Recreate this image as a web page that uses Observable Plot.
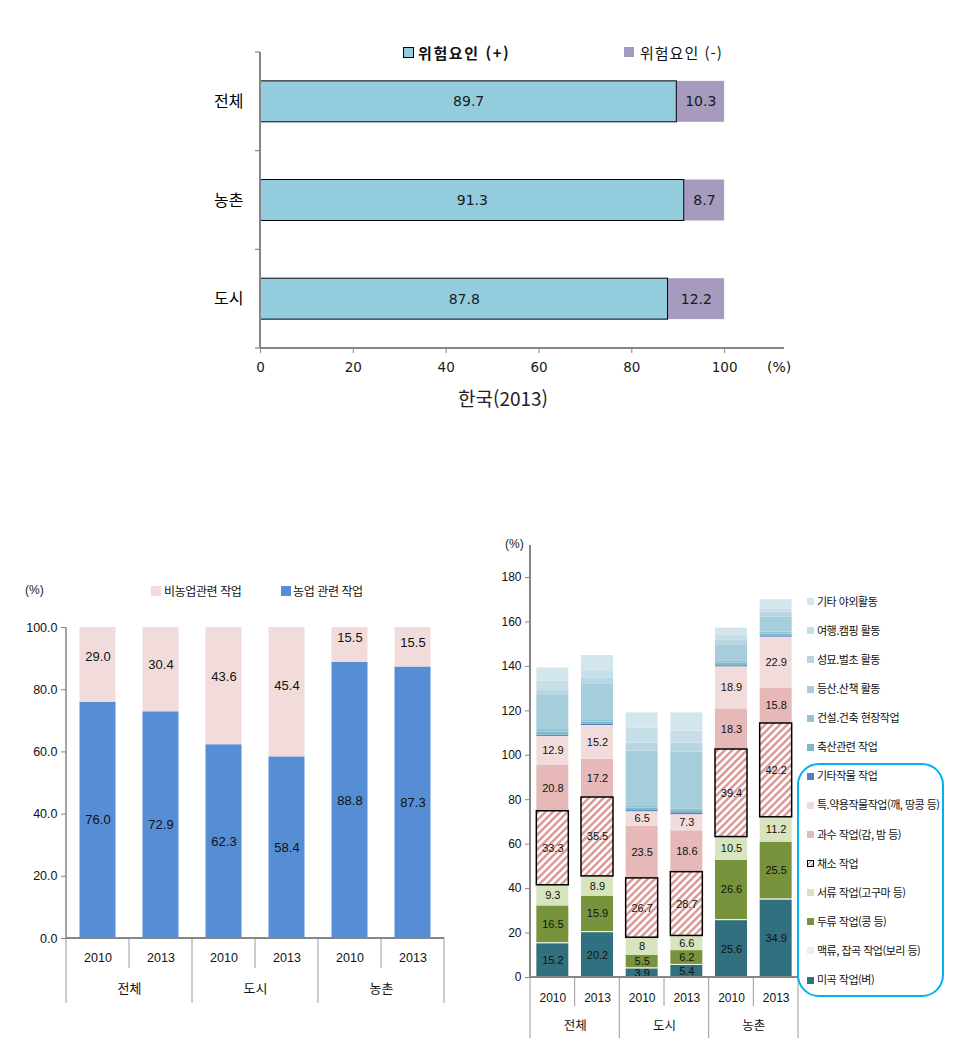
<!DOCTYPE html>
<html lang="ko"><head><meta charset="utf-8">
<script src="https://cdn.jsdelivr.net/npm/d3@7"></script>
<script src="https://cdn.jsdelivr.net/npm/@observablehq/plot@0.6"></script>
<style>
html,body{margin:0;padding:0;background:#fff;}
#wrap{position:relative;width:960px;height:1059px;overflow:hidden;font-family:"Noto Sans CJK KR","Noto Sans",sans-serif;color:#000;}
#wrap > svg{position:absolute;overflow:visible;}
.t{position:absolute;white-space:nowrap;line-height:1.2;transform:translateY(-50%);}
.sw{position:absolute;box-sizing:border-box;}
</style></head><body><div id="wrap"></div>
<script>
// ---------- Chart A: 위험요인 (2013) ----------
const riskRegions = ["전체", "농촌", "도시"];
const riskSeries = ["위험요인 (+)", "위험요인 (-)"];
const riskPlus = [89.7, 91.3, 87.8];
const riskMinus = [10.3, 8.7, 12.2];
const riskTicks = [0, 20, 40, 60, 80, 100];
const riskTitle = "한국(2013)";

// ---------- Chart B: 농업/비농업 작업 ----------
const groups = ["전체", "도시", "농촌"];
const years = ["2010", "2013"];
const shareSeries = ["농업 관련 작업", "비농업관련 작업"];
const farmWork = [76.0, 72.9, 62.3, 58.4, 88.8, 87.3];
const nonFarmWork = [29.0, 30.4, 43.6, 45.4, 15.5, 15.5];
const shareTicks = [0, 20, 40, 60, 80, 100];

// ---------- Chart C: 작업 종류별 ----------
const cropSeries = ["미곡 작업(벼)", "맥류, 잡곡 작업(보리 등)", "두류 작업(콩 등)", "서류 작업(고구마 등)",
  "채소 작업", "과수 작업(감, 밤 등)", "특.약용작물작업(깨, 땅콩 등)", "기타작물 작업",
  "축산관련 작업", "건설.건축 현장작업", "등산.산책 활동", "성묘.벌초 활동", "여행.캠핑 활동", "기타 야외활동"];
const rice = [15.2, 20.2, 3.9, 5.4, 25.6, 34.9];
const barleyGrain = [0.5, 0.5, 0.5, 0.5, 0.5, 0.5];
const beans = [16.5, 15.9, 5.5, 6.2, 26.6, 25.5];
const tubers = [9.3, 8.9, 8, 6.6, 10.5, 11.2];
const vegetables = [33.3, 35.5, 26.7, 28.7, 39.4, 42.2];
const fruit = [20.8, 17.2, 23.5, 18.6, 18.3, 15.8];
const specialCrops = [12.9, 15.2, 6.5, 7.3, 18.9, 22.9];
const otherCrops = [0.5, 0.5, 0.5, 0.8, 0.5, 0.3];
const livestock = [1.5, 1.0, 1.2, 1.0, 1.2, 1.3];
const construction = [1.1, 0.8, 1.0, 0.8, 0.8, 0.8];
const hiking = [15.3, 16.2, 24.6, 25.5, 7.1, 6.7];
const graveVisit = [2.2, 2.8, 3.5, 4.0, 2.3, 2.3];
const travel = [4.2, 3.0, 6.8, 5.4, 2.2, 1.4];
const otherOutdoor = [6.0, 7.2, 6.9, 8.3, 3.3, 4.2];
const cropTicks = [0, 20, 40, 60, 80, 100, 120, 140, 160, 180];
const labeledCrops = ["미곡 작업(벼)", "두류 작업(콩 등)", "서류 작업(고구마 등)", "채소 작업", "과수 작업(감, 밤 등)", "특.약용작물작업(깨, 땅콩 등)"];

// ---------- styles ----------
const KR = '"Noto Sans CJK KR","Noto Sans",sans-serif';
const NARROW = '"Liberation Sans Narrow","Liberation Sans",Arial,sans-serif';
const AXIS = "#868686";
const riskColors = ["#93CDDD", "#A69ABF"];
const shareColors = ["#558ED5", "#F2DCDB"];
const cropColors = ["#30707F", "#EBF1DE", "#77933C", "#D7E4BD", "url(#hatch)", "#E6B9B8", "#F2DCDB",
  "#4F81BD", "#7FB7CB", "#93C4D5", "#A5CDDB", "#B7D6E1", "#C6DEE7", "#D4E6ED"];

const wrap = document.getElementById("wrap");
function place(el, left, top) { el.style.left = left + "px"; el.style.top = top + "px"; wrap.appendChild(el); }
function label(text, x, cy, size, extra = "") {
  const d = document.createElement("div"); d.className = "t"; d.textContent = text;
  d.style.cssText += `left:${x}px;top:${cy}px;font-size:${size}px;` + extra;
  wrap.appendChild(d); return d;
}
function swatch(x, y, w, h, css) {
  const d = document.createElement("div"); d.className = "sw";
  d.style.cssText += `left:${x}px;top:${y}px;width:${w}px;height:${h}px;` + css;
  wrap.appendChild(d); return d;
}
function line(sel, x1, y1, x2, y2, stroke, w) {
  sel.append("line").attr("x1", x1).attr("y1", y1).attr("x2", x2).attr("y2", y2)
    .attr("stroke", stroke).attr("stroke-width", w);
}

// ================= Chart A =================
const riskData = riskRegions.flatMap((r, i) => [
  {region: r, series: riskSeries[0], value: riskPlus[i]},
  {region: r, series: riskSeries[1], value: riskMinus[i]}
]);
const riskXMax = 112.9;
const chartA = Plot.plot({
  width: 960, height: 420, marginLeft: 260, marginRight: 176, marginTop: 52, marginBottom: 72,
  x: {domain: [0, riskXMax], round: false},
  y: {domain: riskRegions, paddingInner: 0.585, paddingOuter: 0.2925, round: false},
  color: {type: "identity"},
  style: {background: "transparent", fontFamily: '"DejaVu Sans",sans-serif', fontSize: "14px", color: "#000"},
  marks: [
    Plot.barX(riskData, Plot.stackX({y: "region", x: "value", z: "series", order: riskSeries,
      fill: d => riskColors[riskSeries.indexOf(d.series)]})),
    Plot.barX(riskData.filter(d => d.series === riskSeries[0]), Plot.stackX({y: "region", x: "value", z: "series",
      order: riskSeries, fill: "none", stroke: "#000", strokeWidth: 1})),
    Plot.text(riskData, Plot.stackX({y: "region", x: "value", z: "series", order: riskSeries,
      text: d => d.value.toFixed(1), fill: "#1a1a1a", fontSize: 14})),
    Plot.axisX({ticks: riskTicks, tickSize: 5, tickPadding: 9, stroke: AXIS, fill: "#1a1a1a", fontSize: 13.5, label: null}),
    Plot.axisY({tickSize: 0, tickPadding: 17, fontSize: 16, fontFamily: KR, fill: "#000", label: null})
  ]
});
place(chartA, 0, 0);
{
  const s = d3.select(chartA).append("g");
  const xs = chartA.scale("x"), ys = chartA.scale("y");
  const off = (ys.step - ys.bandwidth) / 2;
  const b = riskRegions.map(r => ys.apply(r) - off);
  b.push(b[b.length - 1] + ys.step);
  const x0 = xs.apply(0), xEnd = xs.apply(riskXMax);
  b.forEach(v => line(s, x0 - 5, v, x0, v, AXIS, 1.2));
  line(s, x0, b[0], x0, b[b.length - 1], AXIS, 2);
  line(s, x0, b[b.length - 1], xEnd, b[b.length - 1], AXIS, 2);
}
// legend, unit and title for A
swatch(403, 47, 11, 11, `background:${riskColors[0]};border:1.5px solid #000;`);
label(riskSeries[0], 418, 53, 15, "font-weight:bold;letter-spacing:1.6px;color:#111;");
swatch(624, 47, 10, 10, `background:${riskColors[1]};`);
label(riskSeries[1], 640, 53, 15, "letter-spacing:1px;color:#111;");
label("(%)", 767, 367, 14, 'font-family:"DejaVu Sans",sans-serif;color:#111;');
label(riskTitle, 503, 398, 19, "transform:translate(-50%,-50%);color:#222;");

// ================= Chart B =================
const barKeys = groups.flatMap(g => years.map(y => g + " " + y));
const shareData = barKeys.flatMap((k, i) => [
  {bar: k, series: shareSeries[0], value: farmWork[i]},
  {bar: k, series: shareSeries[1], value: nonFarmWork[i]}
]);
const widthB = 470, mLB = 66, mRB = 26;
const stepB = (widthB - mLB - mRB) / barKeys.length;
const chartB = Plot.plot({
  width: widthB, height: 480, marginLeft: mLB, marginRight: mRB, marginTop: 67, marginBottom: 102,
  x: {domain: barKeys, paddingInner: 0.4286, paddingOuter: 0.2143, round: false},
  y: {domain: [0, 100]},
  color: {type: "identity"},
  style: {background: "transparent", fontFamily: NARROW, fontSize: "12px", color: "#000"},
  marks: [
    Plot.barY(shareData, Plot.stackY({x: "bar", y: "value", z: "series", order: shareSeries,
      fill: d => shareColors[shareSeries.indexOf(d.series)], clip: true})),
    Plot.text(shareData, Plot.stackY({x: "bar", y: "value", z: "series", order: shareSeries,
      text: d => d.value.toFixed(1), fill: "#111", fontSize: 13})),
    Plot.axisY({ticks: shareTicks, tickFormat: d => d.toFixed(1), tickSize: 5, tickPadding: 4,
      stroke: AXIS, fill: "#111", fontSize: 12.5, label: null}),
    Plot.axisX({tickFormat: k => k.split(" ")[1], tickSize: 0, tickPadding: 15, fill: "#111", fontSize: 12.5, label: null}),
    Plot.text(groups, {x: g => g + " " + years[0], dx: stepB / 2, frameAnchor: "bottom", dy: 54,
      text: d => d, fontFamily: KR, fontSize: 13, fill: "#111"})
  ]
});
place(chartB, 0, 560);
{
  const s = d3.select(chartB).append("g");
  const xs = chartB.scale("x"), ys = chartB.scale("y");
  const off = (xs.step - xs.bandwidth) / 2;
  const b = barKeys.map(k => xs.apply(k) - off);
  b.push(b[b.length - 1] + xs.step);
  const y0 = ys.apply(0), yTop = ys.apply(100);
  line(s, b[0], yTop, b[0], y0, AXIS, 1.5);
  b.forEach((v, i) => line(s, v, y0, v, y0 + (i % 2 === 0 ? 65 : 30), "#9a9a9a", 1));
  line(s, b[0], y0, b[b.length - 1], y0, AXIS, 2);
}
label("(%)", 25, 590, 12, `font-family:${NARROW};color:#222;`);
swatch(151, 586, 10, 10, `background:${shareColors[1]};`);
label(shareSeries[1], 164, 591, 12, "letter-spacing:-0.4px;color:#111;");
swatch(281, 586, 10, 10, `background:${shareColors[0]};`);
label(shareSeries[0], 293, 591, 12, "letter-spacing:-0.4px;color:#111;");

// ================= Chart C =================
const cropValues = [rice, barleyGrain, beans, tubers, vegetables, fruit, specialCrops, otherCrops,
  livestock, construction, hiking, graveVisit, travel, otherOutdoor];
const cropData = barKeys.flatMap((k, i) => cropSeries.map((s, j) => ({
  bar: k, series: s, value: cropValues[j][i], color: cropColors[j], labeled: labeledCrops.includes(s)
})));
const widthC = 480, mLC = 50, mRC = 162;
const stepC = (widthC - mLC - mRC) / barKeys.length;
const cropYMax = 194.4;
const stackC = {x: "bar", y: "value", z: "series", order: cropSeries};
const chartC = Plot.plot({
  width: widthC, height: 529, marginLeft: mLC, marginRight: mRC, marginTop: 15, marginBottom: 82,
  x: {domain: barKeys, paddingInner: 0.284, paddingOuter: 0.142, round: false},
  y: {domain: [0, cropYMax]},
  color: {type: "identity"},
  style: {background: "transparent", fontFamily: NARROW, fontSize: "12px", color: "#000"},
  marks: [
    Plot.barY(cropData, Plot.stackY({...stackC, fill: "color"})),
    Plot.barY(cropData, Plot.stackY({...stackC, fill: "none",
      stroke: d => d.series === "채소 작업" ? "#000" : "none", strokeWidth: 1.5})),
    Plot.text(cropData, Plot.stackY({...stackC, text: d => d.labeled ? String(d.value) : null,
      fill: "#111", fontSize: 11})),
    Plot.axisY({ticks: cropTicks, tickSize: 5, tickPadding: 4, stroke: AXIS, fill: "#111", fontSize: 12, label: null}),
    Plot.axisX({tickFormat: k => k.split(" ")[1], tickSize: 0, tickPadding: 16, fill: "#111", fontSize: 12, label: null}),
    Plot.text(groups, {x: g => g + " " + years[0], dx: stepC / 2, frameAnchor: "bottom", dy: 52,
      text: d => d, fontFamily: KR, fontSize: 12.5, fill: "#111"})
  ]
});
place(chartC, 480, 530);
{
  const svg = d3.select(chartC);
  const defs = svg.insert("defs", ":first-child");
  const pat = defs.append("pattern").attr("id", "hatch").attr("patternUnits", "userSpaceOnUse")
    .attr("width", 5.2).attr("height", 5.2).attr("patternTransform", "rotate(45)");
  pat.append("rect").attr("width", 5.2).attr("height", 5.2).attr("fill", "#fff");
  pat.append("rect").attr("width", 2.5).attr("height", 5.2).attr("fill", "#DB9896");
  const s = svg.append("g");
  const xs = chartC.scale("x"), ys = chartC.scale("y");
  const off = (xs.step - xs.bandwidth) / 2;
  const b = barKeys.map(k => xs.apply(k) - off);
  b.push(b[b.length - 1] + xs.step);
  const y0 = ys.apply(0), yTop = ys.apply(cropYMax);
  line(s, b[0], yTop, b[0], y0, AXIS, 2);
  b.forEach((v, i) => line(s, v, y0, v, y0 + (i % 2 === 0 ? 61 : 29), "#9a9a9a", 1));
  line(s, b[0], y0, b[b.length - 1], y0, AXIS, 2);
}
label("(%)", 505, 544, 12, `font-family:${NARROW};color:#222;`);
// legend for C (top item = top of stack)
const legendItems = cropSeries.map((s, j) => ({s, c: cropColors[j]})).reverse();
legendItems.forEach((it, i) => {
  const cy = 601.7 + i * 29.1;
  const css = it.c.startsWith("url")
    ? "background:repeating-linear-gradient(135deg,#fff 0 1.5px,#DB9896 1.5px 3px);border:1px solid #000;"
    : `background:${it.c};`;
  swatch(807, cy - 3.5, 7, 7, css);
  label(it.s, 817, cy, 11, "letter-spacing:-0.5px;color:#111;");
});
swatch(797, 763, 147, 234, "border:2px solid #00B0F0;border-radius:22px;");
</script></body></html>
